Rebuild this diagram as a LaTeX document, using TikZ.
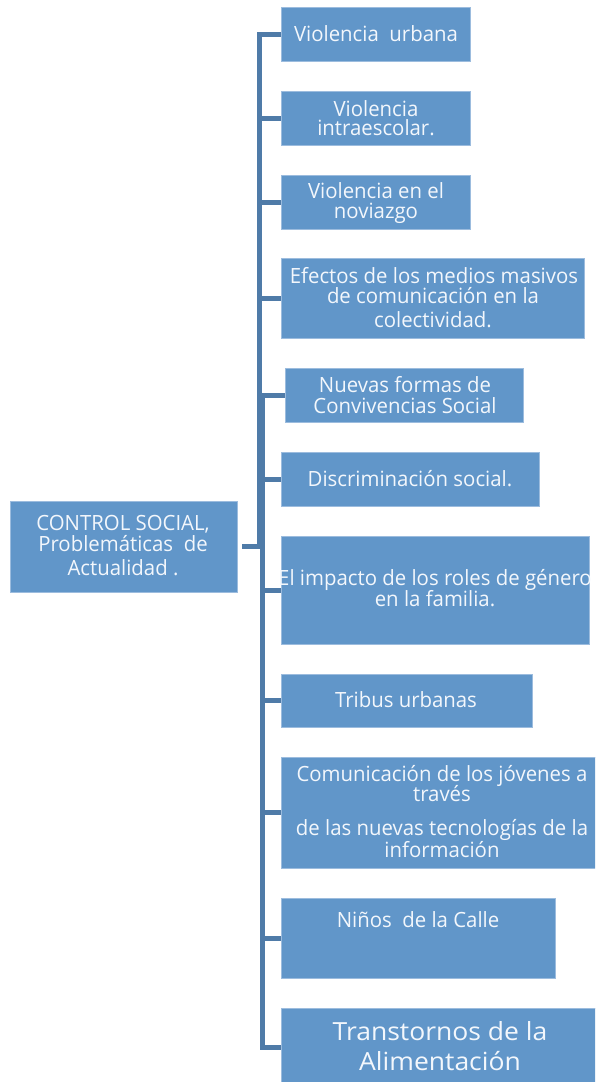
\documentclass[tikz,border=0pt]{standalone}
\usepackage{fontspec}
\setmainfont{Open Sans}[FakeStretch=0.97]
\newfontfamily\bigfont{Open Sans}[FakeStretch=1.06]
\definecolor{boxfill}{HTML}{6196C9}
\definecolor{boxline}{HTML}{9CBCDE}
\definecolor{connc}{HTML}{4F7BA8}
\definecolor{txtc}{HTML}{F3F7FC}
\tikzset{
  box/.style={draw=boxline, line width=0.8pt, fill=boxfill, anchor=north west, inner sep=0pt, outer sep=0pt},
  lbl/.style={text=txtc, inner sep=0pt, font=\fontsize{21}{21}\selectfont, anchor=base},
  biglbl/.style={text=txtc, inner sep=0pt, font=\bigfont\fontsize{25}{29}\selectfont, anchor=base},
  conn/.style={draw=connc, line width=5pt}
}
\begin{document}
\begin{tikzpicture}[x=1pt,y=-1pt]
\useasboundingbox (0,0) rectangle (595,1082);
\begin{scope}
\clip (0,0) rectangle (595,1082);
% boxes
\node[box, minimum width=227, minimum height=91] (main) at (10,501) {};
\node[box, minimum width=189, minimum height=54] (b1) at (281,7) {};
\node[box, minimum width=189, minimum height=54] (b2) at (281,91) {};
\node[box, minimum width=189, minimum height=54] (b3) at (281,175) {};
\node[box, minimum width=303, minimum height=80] (b4) at (281,258) {};
\node[box, minimum width=238, minimum height=54] (b5) at (285,368) {};
\node[box, minimum width=258, minimum height=54] (b6) at (281,452) {};
\node[box, minimum width=308, minimum height=108] (b7) at (281,536) {};
\node[box, minimum width=251, minimum height=53] (b8) at (281,674) {};
\node[box, minimum width=322, minimum height=111] (b9) at (281,757) {};
\node[box, minimum width=274, minimum height=80] (b10) at (281,898) {};
\node[box, minimum width=322, minimum height=78] (b11) at (281,1008) {};

% connectors
\coordinate (spA) at (259,0);
\coordinate (spB) at (262,0);
\coordinate (jA) at (259,548);
\draw[conn] (b1.west) -- (b1.west -| spA) -- (jA);
\draw[conn] (main.east) ++(5,0) coordinate (mj) (mj) -- (mj -| spB);
\draw[conn] (b2.west) -- (b2.west -| spA);
\draw[conn] (b3.west) -- (b3.west -| spA);
\draw[conn] (b4.west) -- (b4.west -| spA);
\draw[conn] (b5.west) -- (b5.west -| spB) -- (b11.west -| spB) -- (b11.west);
\draw[conn] (b6.west) -- (b6.west -| spB);
\draw[conn] (b7.west) -- (b7.west -| spB);
\draw[conn] (b8.west) -- (b8.west -| spB);
\draw[conn] (b9.west) -- (b9.west -| spB);
\draw[conn] (b10.west) -- (b10.west -| spB);

% texts
\node[lbl] (m1) at (123,530) {CONTROL SOCIAL,};
\node[lbl] (m2) at (123,551) {Problemáticas\ \ de};
\node[lbl] (m3) at (123,575) {Actualidad .};

\node[lbl] (t1) at (376,41) {Violencia\ \ urbana};
\node[lbl] (t2a) at (376,116) {Violencia};
\node[lbl] (t2b) at (376,135) {intraescolar.};
\node[lbl] (t3a) at (376,198) {Violencia en el};
\node[lbl] (t3b) at (376,218) {noviazgo};
\node[lbl] (t4a) at (434,283) {Efectos de los medios masivos};
\node[lbl] (t4b) at (433,303) {de comunicación en la};
\node[lbl] (t4c) at (433,327) {colectividad.};
\node[lbl] (t5a) at (405,392) {Nuevas formas de};
\node[lbl] (t5b) at (405,413) {Convivencias Social};
\node[lbl] (t6) at (410,486) {Discriminación social.};
\node[lbl] (t7a) at (435,585) {El impacto de los roles de género};
\node[lbl] (t7b) at (435,606) {en la familia.};
\node[lbl] (t8) at (406,707) {Tribus urbanas};
\node[lbl] (t9a) at (442,781) {Comunicación de los jóvenes a};
\node[lbl] (t9b) at (442,801) {través};
\node[lbl] (t9c) at (442,835) {de las nuevas tecnologías de la};
\node[lbl] (t9d) at (442,857) {información};
\node[lbl] (t10) at (418,927) {Niños\ \ de la Calle};
\node[biglbl] (t11a) at (440,1040) {Transtornos de la};
\node[biglbl] (t11b) at (440,1070) {Alimentación};
\end{scope}
\end{tikzpicture}
\end{document}
